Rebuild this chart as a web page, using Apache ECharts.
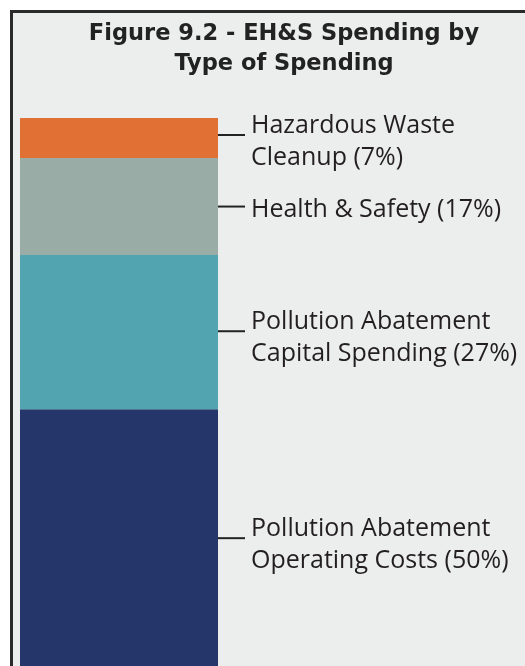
<!DOCTYPE html>
<html>
<head>
<meta charset="utf-8">
<script src="https://cdn.jsdelivr.net/npm/echarts@6/dist/echarts.min.js"></script>
<style>
  html, body { margin: 0; padding: 0; background: #ffffff; overflow: hidden; }
  #chart { width: 525px; height: 700px; }
</style>
</head>
<body>
<div id="chart"></div>
<script>
// stacked from the bottom up
const categories = [
  'Pollution Abatement\nOperating Costs',
  'Pollution Abatement\nCapital Spending',
  'Health & Safety',
  'Hazardous Waste\nCleanup'
]
const shares = [50, 27, 17, 7]
const colors = ['#24366a', '#52a4b0', '#9aaca6', '#e07033']
// how far each leader sits from the middle of its block (px)
const leaderShift = [-14, -1, 0, -3]

const total = shares.reduce((a, b) => a + b, 0)
let run = 0
const leaderData = shares.map(v => {
  const row = [0, run, v]
  run += v
  return row
})

let myChart = echarts.init(document.getElementById('chart'))

let barSeries = shares.map((v, i) => ({
  name: categories[i],
  type: 'bar',
  stack: 'total',
  barWidth: '100%',
  data: [v],
  itemStyle: { color: colors[i] }
}))

let option = {
  animation: false,
  backgroundColor: '#ffffff',
  graphic: [{
    // panel fill, then its dark top and left edges
    type: 'rect',
    z: -10,
    silent: true,
    shape: { x: 10, y: 10, width: 600, height: 800 },
    style: { fill: '#eceeed' }
  }, {
    type: 'polyline',
    z: -9,
    silent: true,
    shape: { points: [[11.5, 800], [11.5, 11.5], [600, 11.5]] },
    style: { stroke: '#2a2a2a', lineWidth: 3, fill: null }
  }, {
    type: 'text',
    x: 284,
    y: 19,
    silent: true,
    style: {
      text: 'Figure 9.2 - EH&S Spending by\nType of Spending',
      align: 'center',
      verticalAlign: 'top',
      font: 'bold 22.5px "DejaVu Sans"',
      lineHeight: 30,
      fill: '#222222'
    }
  }],
  // the bar runs on past the bottom edge of the window
  grid: { left: 20, width: 198, top: 118, bottom: 5 },
  xAxis: {
    type: 'category',
    data: ['spending'],
    show: false
  },
  yAxis: {
    type: 'value',
    min: 0,
    max: total,
    show: false
  },
  series: barSeries.concat([{
    type: 'custom',
    data: leaderData,
    encode: { x: 0, y: 1 },
    z: 5,
    renderItem: function (params, api) {
      const i = params.dataIndex
      const top = api.coord([0, api.value(1) + api.value(2)])
      const bottom = api.coord([0, api.value(1)])
      const band = api.size([1, 0])[0]
      const x0 = top[0] + band / 2
      const y = (top[1] + bottom[1]) / 2 + leaderShift[i]
      const text = categories[i] + ' (' + shares[i] + '%)'
      const twoLines = text.indexOf('\n') >= 0
      return {
        type: 'group',
        children: [{
          type: 'line',
          shape: { x1: x0, y1: y, x2: x0 + 27, y2: y },
          style: { stroke: '#222222', lineWidth: 2 }
        }, {
          type: 'text',
          style: {
            text: text,
            x: x0 + 33,
            y: twoLines ? y - 25 : y - 13,
            fill: '#231f20',
            font: '25px "Open Sans"',
            lineHeight: 32,
            align: 'left',
            verticalAlign: 'top'
          }
        }]
      }
    }
  }])
}

myChart.setOption(option)
</script>
</body>
</html>
